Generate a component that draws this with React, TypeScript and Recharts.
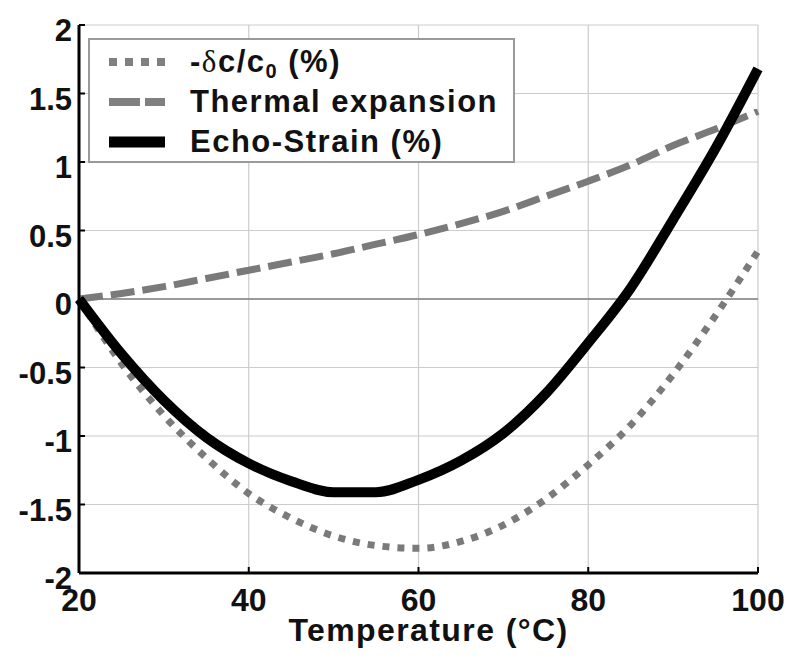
import React from "react";
import {
  LineChart,
  Line,
  XAxis,
  YAxis,
  CartesianGrid,
  ReferenceLine,
  Legend,
} from "recharts";

const temperature = [20, 25, 30, 35, 40, 45, 50, 55, 60, 65, 70, 75, 80, 85, 90, 95, 100];
const deltaC = [0, -0.47, -0.85, -1.16, -1.42, -1.6, -1.73, -1.8, -1.82, -1.77, -1.65, -1.46, -1.21, -0.92, -0.55, -0.12, 0.35];
const thermal = [0, 0.04, 0.09, 0.15, 0.21, 0.27, 0.33, 0.4, 0.47, 0.55, 0.64, 0.75, 0.86, 0.98, 1.12, 1.24, 1.37];
const echoStrain = [0, -0.4, -0.74, -1.01, -1.2, -1.33, -1.41, -1.41, -1.32, -1.18, -0.98, -0.69, -0.32, 0.08, 0.58, 1.1, 1.68];

const xTicks = [20, 40, 60, 80, 100];
const yTicks = [-2, -1.5, -1, -0.5, 0, 0.5, 1, 1.5, 2];

const data = temperature.map((t, i) => ({
  t,
  dc: deltaC[i],
  th: thermal[i],
  es: echoStrain[i],
}));

const FONT = "'Liberation Sans', Arial, Helvetica, sans-serif";

const LegendBox = () => {
  const rowStyle = (top: number): React.CSSProperties => ({
    position: "absolute",
    left: 0,
    top,
    height: 40,
    width: "100%",
  });
  const textStyle: React.CSSProperties = {
    position: "absolute",
    left: 100,
    top: 0,
    height: 40,
    lineHeight: "40px",
    fontFamily: FONT,
    fontWeight: "bold",
    fontSize: 31,
    letterSpacing: 1.5,
    color: "#111",
    whiteSpace: "nowrap",
  };
  const svgStyle: React.CSSProperties = { position: "absolute", left: 19, top: 0 };
  return (
    <div
      style={{
        position: "relative",
        width: 427,
        height: 125,
        boxSizing: "border-box",
        border: "2px solid #9a9a9a",
        background: "#fff",
      }}
    >
      <div style={rowStyle(2)}>
        <svg width={56} height={40} style={svgStyle}>
          <line x1={0} y1={20} x2={56} y2={20} stroke="#808080" strokeWidth={8} strokeDasharray="8 8" />
        </svg>
        <div style={textStyle}>
          -<span style={{ fontFamily: "'Liberation Serif', serif", fontWeight: "normal" }}>δ</span>c/c
          <span style={{ fontSize: 20, position: "relative", top: 6 }}>0</span> (%)
        </div>
      </div>
      <div style={rowStyle(42)}>
        <svg width={56} height={40} style={svgStyle}>
          <line x1={0} y1={20} x2={56} y2={20} stroke="#808080" strokeWidth={8} strokeDasharray="31 5" />
        </svg>
        <div style={textStyle}>Thermal expansion</div>
      </div>
      <div style={rowStyle(82)}>
        <svg width={56} height={40} style={svgStyle}>
          <line x1={0} y1={20} x2={56} y2={20} stroke="#000" strokeWidth={11} />
        </svg>
        <div style={textStyle}>Echo-Strain (%)</div>
      </div>
    </div>
  );
};

const XLabel = (props: any) => {
  const vb = props.viewBox || { x: 0, y: 0, width: 0 };
  return (
    <text
      x={vb.x + vb.width / 2 + 10}
      y={641}
      textAnchor="middle"
      fontFamily={FONT}
      fontWeight="bold"
      fontSize={32}
      letterSpacing={1.4}
      fill="#111"
    >
      Temperature (°C)
    </text>
  );
};

export default function App() {
  return (
    <div style={{ position: "absolute", left: 0, top: 0, width: 800, height: 666, background: "#fff" }}>
      <LineChart
        width={800}
        height={666}
        data={data}
        margin={{ top: 25, right: 42, left: 0, bottom: 0 }}
      >
        <CartesianGrid stroke="#cccccc" strokeWidth={1.2} />
        <XAxis
          dataKey="t"
          type="number"
          domain={[20, 100]}
          ticks={xTicks}
          height={93}
          axisLine={{ stroke: "#000", strokeWidth: 3 }}
          tickLine={{ stroke: "#000", strokeWidth: 2 }}
          tickSize={-6}
          tickMargin={21}
          tick={{ fill: "#111", fontFamily: FONT, fontWeight: "bold", fontSize: 32 }}
          label={<XLabel />}
        />
        <YAxis
          type="number"
          domain={[-2, 2]}
          ticks={yTicks}
          width={79}
          axisLine={{ stroke: "#000", strokeWidth: 3 }}
          tickLine={{ stroke: "#000", strokeWidth: 2 }}
          tickSize={-6}
          tickMargin={13}
          tick={{ fill: "#111", fontFamily: FONT, fontWeight: "bold", fontSize: 31, dy: 5 }}
          interval={0}
        />
        <ReferenceLine y={0} stroke="#808080" strokeWidth={1.5} />
        <Legend
          layout="horizontal"
          verticalAlign="middle"
          align="center"
          content={<LegendBox />}
          wrapperStyle={{ position: "absolute", left: 88, top: 38, width: 427, height: 125 }}
        />
        <Line
          type="monotone"
          dataKey="dc"
          stroke="#7a7a7a"
          strokeWidth={7}
          strokeDasharray="7 8"
          dot={false}
          isAnimationActive={false}
        />
        <Line
          type="monotone"
          dataKey="th"
          stroke="#7a7a7a"
          strokeWidth={7}
          strokeDasharray="24 8"
          dot={false}
          isAnimationActive={false}
        />
        <Line
          type="monotone"
          dataKey="es"
          stroke="#000"
          strokeWidth={10}
          dot={false}
          isAnimationActive={false}
        />
      </LineChart>
    </div>
  );
}
